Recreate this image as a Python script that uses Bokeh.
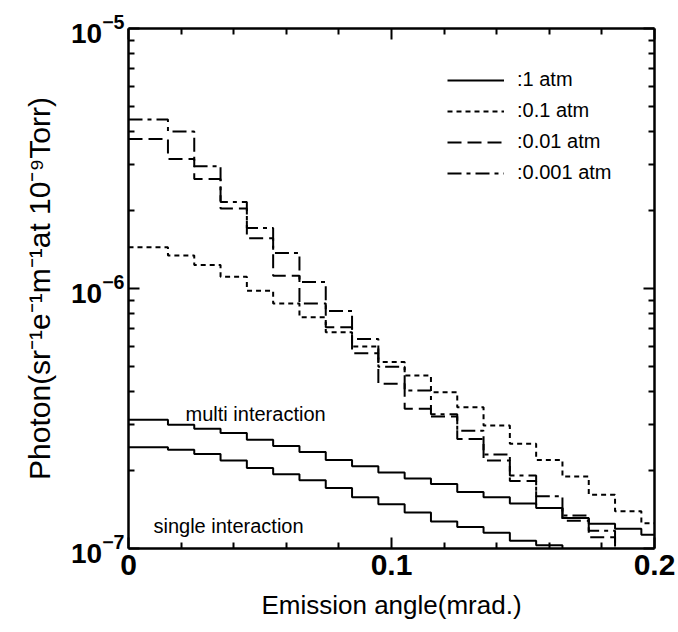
from bokeh.plotting import figure
from bokeh.models import (Range1d, FixedTicker, LinearAxis, LogAxis, Legend, LegendItem, Label)
from bokeh.embed import file_html
from bokeh.resources import INLINE

# ---- data ----
angle_edges = [0.0, 0.015, 0.025, 0.035, 0.045, 0.055, 0.065, 0.075, 0.085, 0.095,
               0.105, 0.115, 0.125, 0.135, 0.145, 0.155, 0.165, 0.175, 0.185, 0.195, 0.2]

atm_1_multi = [3.13e-7, 2.99e-7, 2.89e-7, 2.78e-7, 2.62e-7, 2.48e-7, 2.35e-7, 2.19e-7, 2.07e-7, 1.96e-7,
               1.86e-7, 1.77e-7, 1.65e-7, 1.575e-7, 1.49e-7, 1.43e-7, 1.31e-7, 1.245e-7, 1.19e-7, 1.13e-7]
atm_1_single = [2.45e-7, 2.40e-7, 2.31e-7, 2.18e-7, 2.04e-7, 1.93e-7, 1.83e-7, 1.71e-7, 1.575e-7, 1.48e-7,
                1.375e-7, 1.27e-7, 1.21e-7, 1.15e-7, 1.07e-7, 1.03e-7, 0.97e-7, 0.93e-7, 0.90e-7, 0.87e-7]
atm_0_1 = [1.44e-6, 1.34e-6, 1.23e-6, 1.11e-6, 9.8e-7, 8.75e-7, 7.76e-7, 6.79e-7, 5.98e-7, 5.21e-7,
           4.63e-7, 3.99e-7, 3.49e-7, 2.97e-7, 2.53e-7, 2.19e-7, 1.89e-7, 1.61e-7, 1.39e-7, 1.25e-7]
atm_0_01 = [3.76e-6, 3.15e-6, 2.64e-6, 2.03e-6, 1.56e-6, 1.12e-6, 8.75e-7, 7.10e-7, 5.64e-7, 4.30e-7,
            3.45e-7, 3.22e-7, 2.64e-7, 2.18e-7, 1.82e-7, 1.43e-7, 1.28e-7, 1.105e-7, 0.80e-7, 0.70e-7]
atm_0_001 = [4.47e-6, 4.02e-6, 2.95e-6, 2.15e-6, 1.71e-6, 1.37e-6, 1.06e-6, 8.2e-7, 6.4e-7, 5.0e-7,
             4.05e-7, 3.28e-7, 2.84e-7, 2.30e-7, 1.91e-7, 1.59e-7, 1.34e-7, 1.17e-7, 0.80e-7, 0.70e-7]

x_major = [0.0, 0.1, 0.2]
x_minor = [0.02, 0.04, 0.06, 0.08, 0.12, 0.14, 0.16, 0.18]
y_major = [1e-7, 1e-6, 1e-5]
y_minor = [m * d for d in (1e-7, 1e-6) for m in range(2, 10)]
x_labels = {0.0: "0", 0.1: "0.1", 0.2: "0.2"}

FONT = "Liberation Sans"

p = figure(width=678, height=632, y_axis_type="log", output_backend="svg", toolbar_location=None,
           x_range=Range1d(0, 0.2), y_range=Range1d(1e-7, 1e-5),
           min_border_left=128, min_border_right=24, min_border_top=28, min_border_bottom=84)
p.grid.visible = False
p.outline_line_color = None
p.background_fill_color = "white"
p.border_fill_color = "white"


def style_axis(ax, labels=True):
    ax.axis_line_width = 2.5
    ax.axis_line_color = "black"
    ax.major_tick_in = 11
    ax.major_tick_out = 0
    ax.minor_tick_in = 6
    ax.minor_tick_out = 0
    ax.major_tick_line_width = 2
    ax.minor_tick_line_width = 2
    ax.major_tick_line_color = "black"
    ax.minor_tick_line_color = "black"
    if not labels:
        ax.major_label_text_font_size = "0px"
        ax.major_label_text_alpha = 0


xt = FixedTicker(ticks=x_major, minor_ticks=x_minor)
yt = FixedTicker(ticks=y_major, minor_ticks=y_minor)

xa = p.xaxis[0]
xa.ticker = xt
xa.major_label_overrides = x_labels
xa.major_label_text_font = FONT
xa.major_label_text_font_size = "30px"
xa.major_label_text_font_style = "bold"
xa.major_label_text_color = "black"
xa.major_label_standoff = 6
xa.axis_label = "Emission angle(mrad.)"
xa.axis_label_text_font = FONT
xa.axis_label_text_font_size = "26px"
xa.axis_label_text_font_style = "normal"
xa.axis_label_text_color = "black"
xa.axis_label_standoff = 12
style_axis(xa)

ya = p.yaxis[0]
ya.ticker = yt
ya.major_label_text_font = FONT
ya.major_label_text_font_size = "28px"
ya.major_label_text_font_style = "bold"
ya.major_label_text_color = "black"
ya.major_label_standoff = 4
ya.axis_label = "Photon(sr\u207b\u00b9e\u207b\u00b9m\u207b\u00b9at 10\u207b\u2079Torr)"
ya.axis_label_text_font = FONT
ya.axis_label_text_font_size = "30px"
ya.axis_label_text_font_style = "normal"
ya.axis_label_text_color = "black"
ya.axis_label_standoff = 12
style_axis(ya)

top = LinearAxis(ticker=FixedTicker(ticks=x_major, minor_ticks=x_minor))
style_axis(top, labels=False)
p.add_layout(top, "above")
right = LogAxis(ticker=FixedTicker(ticks=y_major, minor_ticks=y_minor))
style_axis(right, labels=False)
p.add_layout(right, "right")


def series(vals):
    return list(vals) + [vals[-1]]


r_multi = p.step(angle_edges, series(atm_1_multi), mode="after", line_color="black", line_width=2)
r_single = p.step(angle_edges, series(atm_1_single), mode="after", line_color="black", line_width=2)
r_01 = p.step(angle_edges, series(atm_0_1), mode="after", line_color="black", line_width=2,
              line_dash="5 4")
r_001 = p.step(angle_edges, series(atm_0_01), mode="after", line_color="black", line_width=2,
               line_dash="14 6")
r_0001 = p.step(angle_edges, series(atm_0_001), mode="after", line_color="black", line_width=2,
                line_dash="14 5 4 5")

legend = Legend(items=[
    LegendItem(label=":1 atm", renderers=[r_multi]),
    LegendItem(label=":0.1 atm", renderers=[r_01]),
    LegendItem(label=":0.01 atm", renderers=[r_001]),
    LegendItem(label=":0.001 atm", renderers=[r_0001]),
], location=(319, 364))
legend.background_fill_alpha = 0
legend.border_line_alpha = 0
legend.padding = 0
legend.margin = 0
legend.spacing = 8
legend.glyph_width = 57
legend.glyph_height = 22
legend.label_height = 22
legend.label_standoff = 13
legend.label_text_font = FONT
legend.label_text_font_size = "20px"
legend.label_text_color = "black"
p.add_layout(legend)

p.add_layout(Label(x=0.0217, y=3.3e-7, text="multi interaction", text_font=FONT,
                   text_font_size="20px", text_baseline="alphabetic", text_color="black"))
p.add_layout(Label(x=0.0095, y=1.22e-7, text="single interaction", text_font=FONT,
                   text_font_size="20px", text_baseline="alphabetic", text_color="black"))

open("out.html", "w").write(file_html(p, INLINE))
